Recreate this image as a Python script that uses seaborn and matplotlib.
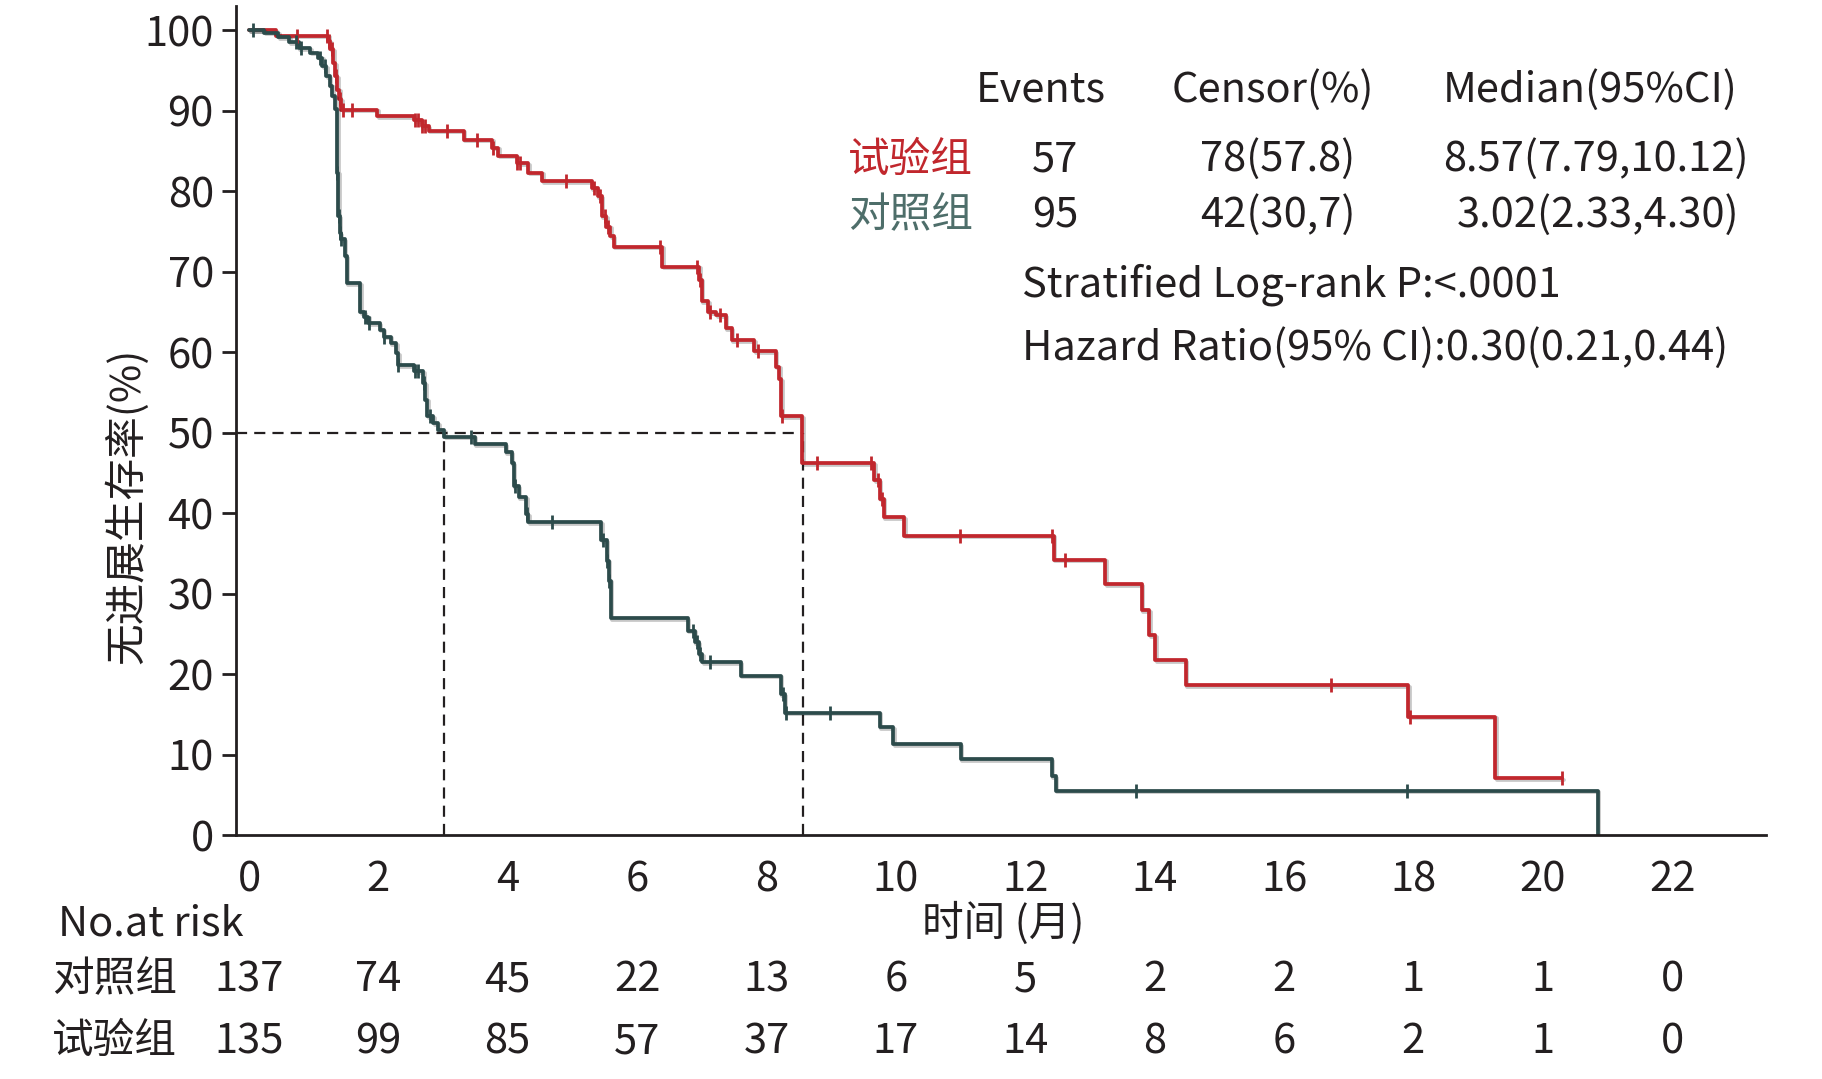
import numpy as np
import pandas as pd
import matplotlib
matplotlib.use("Agg")
import matplotlib.pyplot as plt
import matplotlib.patheffects as pe
import matplotlib.transforms as mtransforms
import seaborn as sns

# 试验组 (trial) KM steps: time (months), survival (%)
trial_time = [0, 0.42, 1.22, 1.26, 1.30, 1.33, 1.36, 1.39, 1.43, 1.98, 2.55, 2.67, 2.78,
              3.32, 3.76, 3.85, 4.14, 4.32, 4.53, 5.30, 5.39, 5.45, 5.52, 5.58, 5.64,
              6.39, 6.96, 7.00, 7.10, 7.22, 7.37, 7.46, 7.81, 8.14, 8.20, 8.23, 8.55,
              9.66, 9.75, 9.81, 10.13, 12.44, 13.24, 13.80, 13.92, 14.01, 14.48, 17.92,
              19.26, 20.30]
trial_surv = [100, 99.3, 98.6, 97.6, 95.9, 94.3, 92.6, 91.4, 90.1, 89.3, 88.8, 88.1, 87.5,
              86.4, 85.4, 84.4, 83.5, 82.3, 81.2, 80.4, 79.4, 76.9, 75.6, 74.4, 73.1,
              70.6, 69.0, 66.3, 65.0, 64.6, 63.0, 61.5, 60.1, 58.2, 56.6, 52.0, 46.2,
              44.1, 41.8, 39.5, 37.2, 34.2, 31.2, 27.9, 24.8, 21.7, 18.6, 14.7,
              7.1, 7.1]
trial_censor = [0.74, 1.20, 1.24, 1.28, 1.35, 1.41, 1.45, 1.60, 2.56, 2.62, 2.68, 2.72,
                3.06, 3.52, 3.77, 4.15, 4.19, 4.90, 5.33, 5.43, 5.50, 5.55, 6.36, 6.93,
                6.98, 7.13, 7.28, 7.55, 7.87, 8.24, 8.78, 9.61, 9.72, 9.79, 10.99,
                12.42, 12.62, 16.73, 17.95, 20.30]

# 对照组 (control)
ctrl_time = [0, 0.24, 0.45, 0.62, 0.77, 0.95, 1.07, 1.13, 1.19, 1.25, 1.29, 1.33, 1.36,
             1.38, 1.40, 1.42, 1.48, 1.51, 1.72, 1.78, 1.84, 2.02, 2.08, 2.19, 2.28,
             2.31, 2.55, 2.69, 2.72, 2.75, 2.85, 2.93, 3.02, 3.49, 3.97, 4.06, 4.09,
             4.17, 4.29, 4.32, 5.44, 5.53, 5.56, 5.59, 6.78, 6.89, 6.95, 7.01, 7.60,
             8.22, 8.28, 9.75, 9.96, 11.00, 12.41, 12.47, 20.85]
ctrl_surv = [100, 99.7, 99.1, 98.5, 97.8, 97.2, 96.6, 95.5, 94.3, 93.1, 91.8, 90.2, 82.3,
             76.9, 74.8, 74.0, 71.9, 68.6, 65.0, 64.4, 63.6, 62.8, 61.9, 61.1, 59.9,
             58.4, 57.6, 56.1, 54.1, 52.0, 51.2, 50.3, 49.5, 48.6, 47.6, 46.2, 43.3,
             42.0, 39.9, 38.9, 36.6, 34.1, 31.6, 26.9, 25.4, 24.0, 22.5, 21.5, 19.8,
             17.5, 15.2, 13.4, 11.3, 9.4, 7.3, 5.5, 0]
ctrl_censor = [0.06, 0.72, 0.80, 1.10, 1.17, 1.365, 1.385, 1.41, 1.43, 1.79, 1.85, 2.09,
               2.31, 2.56, 2.62, 2.70, 2.80, 3.43, 4.12, 4.30, 4.68, 5.47, 5.54, 5.57,
               6.87, 6.92, 6.98, 7.13, 8.25, 8.30, 8.98, 13.71, 17.90]

median_trial = 8.57
median_ctrl = 3.02

months = [0, 2, 4, 6, 8, 10, 12, 14, 16, 18, 20, 22]
risk_ctrl = [137, 74, 45, 22, 13, 6, 5, 2, 2, 1, 1, 0]
risk_trial = [135, 99, 85, 57, 37, 17, 14, 8, 6, 2, 1, 0]

stat_header = ["Events", "Censor(%)", "Median(95%CI)"]
stat_trial = ["57", "78(57.8)", "8.57(7.79,10.12)"]
stat_ctrl = ["95", "42(30,7)", "3.02(2.33,4.30)"]

RED = "#C1272D"
TEAL = "#2C4B4B"
TEAL_TXT = "#4E6E6A"
INK = "#231F20"
FS = 30

sns.set_style("ticks")
plt.rcParams["font.family"] = ["Noto Sans CJK SC", "DejaVu Sans"]
plt.rcParams["axes.unicode_minus"] = False

W, H = 1822, 1079
fig = plt.figure(figsize=(W / 100, H / 100), dpi=100)
ax = fig.add_axes([236 / W, 1 - 835 / H, (1766 - 236) / W, (835 - 6) / H])


def surv_at(times, surv, t):
    idx = np.searchsorted(times, t, side="right") - 1
    return np.asarray(surv)[idx]


shadow = [pe.SimpleLineShadow(offset=(1.2, -1.2), alpha=0.22, rho=0.6), pe.Normal()]

for tt, ss, cc, col in [(trial_time, trial_surv, trial_censor, RED),
                        (ctrl_time, ctrl_surv, ctrl_censor, TEAL)]:
    df = pd.DataFrame({"t": tt, "s": ss})
    sns.lineplot(data=df, x="t", y="s", ax=ax, color=col, lw=2.7,
                 drawstyle="steps-post", estimator=None, sort=False,
                 path_effects=shadow)
    cdf = pd.DataFrame({"t": cc, "s": surv_at(tt, ss, np.array(cc))})
    sns.scatterplot(data=cdf, x="t", y="s", ax=ax, marker="|", s=110,
                    linewidth=2.0, color=col, zorder=3)

# median reference lines
dash = (0, (5, 3.2))
ax.plot([-0.2, median_trial], [50, 50], color=INK, lw=1.6, ls=dash, zorder=1)
ax.plot([median_ctrl, median_ctrl], [0, 50], color=INK, lw=1.6, ls=dash, zorder=1)
ax.plot([median_trial, median_trial], [0, 50], color=INK, lw=1.6, ls=dash, zorder=1)

ax.set_xlim(-0.2, 23.45)
ax.set_ylim(0, 103)
ax.set_xticks(months)
ax.set_yticks(range(0, 101, 10))
ax.tick_params(axis="y", length=10, width=2, color=INK, labelsize=FS,
               labelcolor=INK, pad=6)
ax.tick_params(axis="x", length=0, labelsize=FS, labelcolor=INK, pad=17.5)
ax.set_xlabel("")
ax.set_ylabel("")
for side in ["top", "right"]:
    ax.spines[side].set_visible(False)
for side in ["left", "bottom"]:
    ax.spines[side].set_linewidth(2)
    ax.spines[side].set_color(INK)


def ftext(x, y, s, **kw):
    kw.setdefault("fontsize", FS)
    kw.setdefault("color", INK)
    fig.text(x / W, 1 - y / H, s, **kw)


ftext(127, 506, "无进展生存率(%)", rotation=90, ha="center", va="center")
ftext(1003, 936, "时间 (月)", ha="center", va="baseline")
ftext(58, 935, "No.at risk", ha="left", va="baseline")

# stats block
col_left = [976, 1172, 1443]
for x, s in zip(col_left, stat_header):
    ftext(x, 102, s, ha="left", va="baseline")
ftext(848, 172, "试验组", color=RED, ha="left", va="baseline")
ftext(848, 227, "对照组", color=TEAL_TXT, ha="left", va="baseline")
row_left_trial = [1032, 1200, 1443]
row_left_ctrl = [1032, 1200, 1457]
for x, s in zip(row_left_trial, stat_trial):
    ftext(x, 171, s, ha="left", va="baseline")
for x, s in zip(row_left_ctrl, stat_ctrl):
    ftext(x, 227, s, ha="left", va="baseline")
ftext(1022, 297, "Stratified Log-rank P:<.0001", ha="left", va="baseline")
ftext(1022, 360, "Hazard Ratio(95% CI):0.30(0.21,0.44)", ha="left", va="baseline")

# number at risk table
blend = mtransforms.blended_transform_factory(ax.transData, fig.transFigure)
ftext(52, 991, "对照组", ha="left", va="baseline")
ftext(52, 1053, "试验组", ha="left", va="baseline")
for m, a, b in zip(months, risk_ctrl, risk_trial):
    ax.text(m, 1 - 991 / H, str(a), transform=blend, ha="center", va="baseline",
            fontsize=FS, color=INK)
    ax.text(m, 1 - 1053 / H, str(b), transform=blend, ha="center", va="baseline",
            fontsize=FS, color=INK)

fig.savefig("out.png", dpi=100, facecolor="white")
